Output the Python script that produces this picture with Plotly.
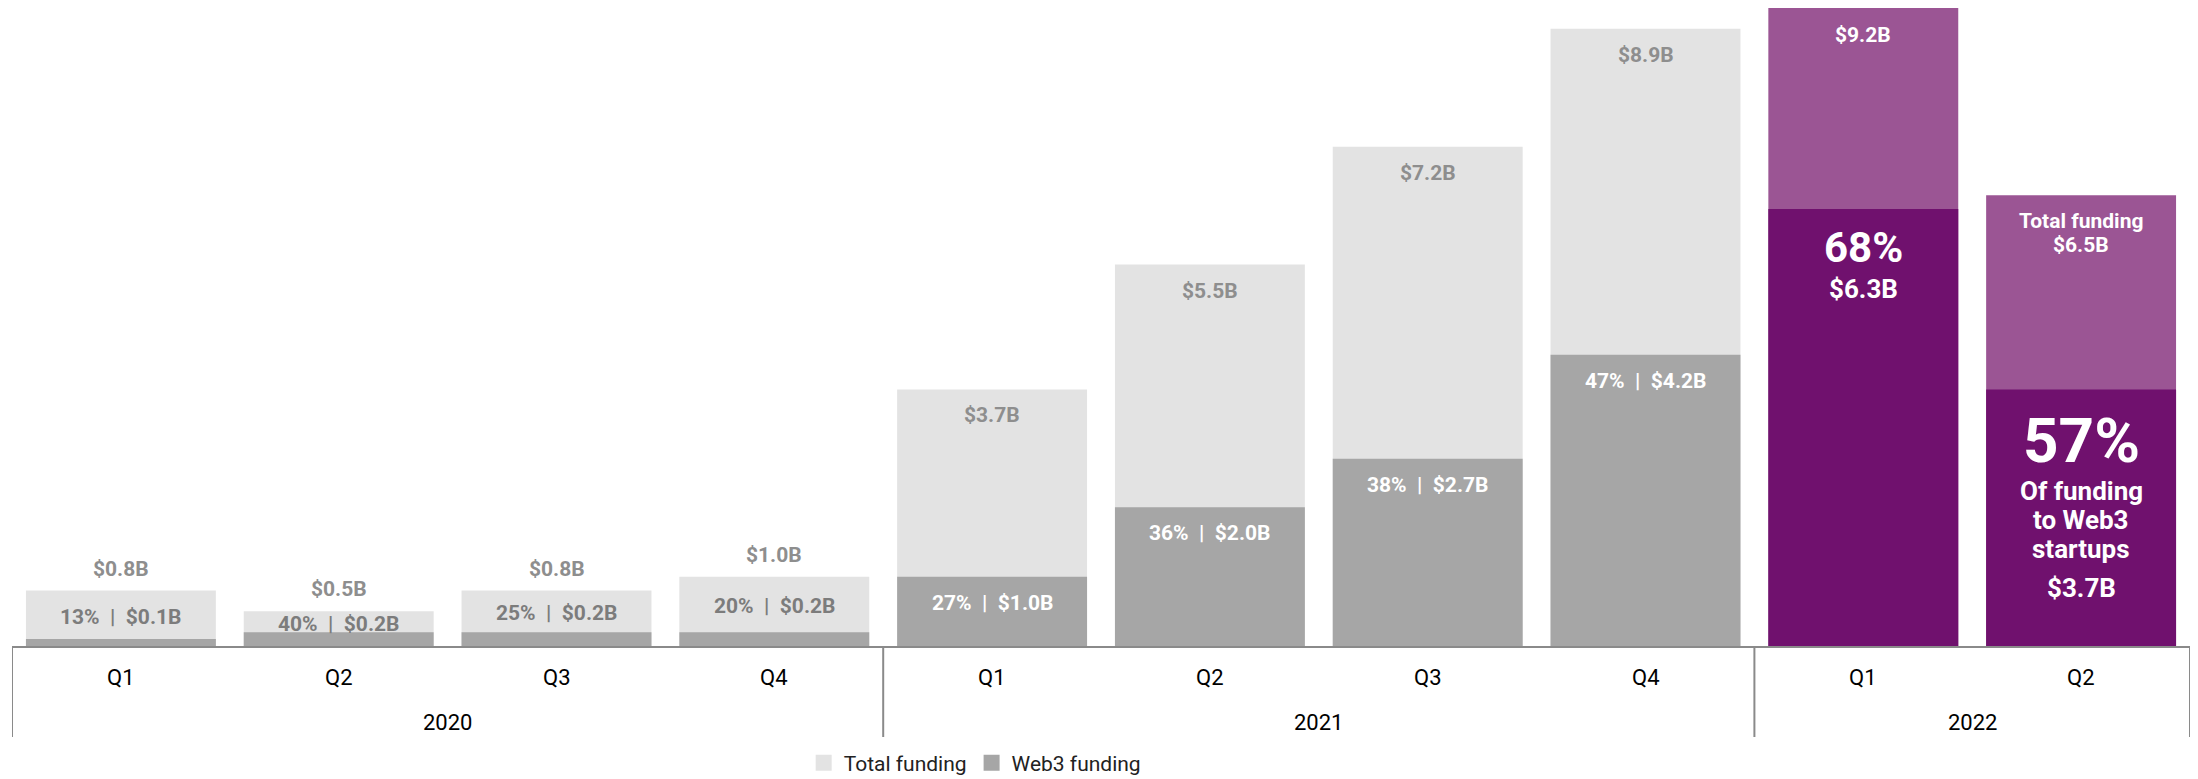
import plotly.graph_objects as go

# Quarterly funding (USD billions)
years = ["2020", "2020", "2020", "2020", "2021", "2021", "2021", "2021", "2022", "2022"]
quarters = ["Q1", "Q2", "Q3", "Q4", "Q1", "Q2", "Q3", "Q4", "Q1", "Q2"]
total_funding = [0.8, 0.5, 0.8, 1.0, 3.7, 5.5, 7.2, 8.9, 9.2, 6.5]
web3_funding = [0.1, 0.2, 0.2, 0.2, 1.0, 2.0, 2.7, 4.2, 6.3, 3.7]
web3_share = [13, 40, 25, 20, 27, 36, 38, 47, 68, 57]

FONT = "Roboto"
LIGHT_GRAY = "#E3E3E3"
MID_GRAY = "#A6A6A6"
LIGHT_PURPLE = "#9B5594"
DARK_PURPLE = "#70116E"
LABEL_GRAY = "#8E8E8E"
DARK_LABEL_GRAY = "#7C7C7C"
AXIS_GRAY = "#8A8A8A"

PLOT_H = 638  # plot-area height in px (used to express pixel offsets in paper units)

highlight = [y == "2022" for y in years]
total_colors = [LIGHT_PURPLE if h else LIGHT_GRAY for h in highlight]
web3_colors = [DARK_PURPLE if h else MID_GRAY for h in highlight]

x_cat = [years, quarters]

fig = go.Figure()
fig.add_trace(go.Bar(x=x_cat, y=total_funding, marker=dict(color=total_colors, line=dict(width=0)),
                     showlegend=False, hoverinfo="skip"))
fig.add_trace(go.Bar(x=x_cat, y=web3_funding, marker=dict(color=web3_colors, line=dict(width=0)),
                     showlegend=False, hoverinfo="skip"))

# Legend swatches
for name, color in [("Total funding", LIGHT_GRAY), ("Web3 funding", MID_GRAY)]:
    fig.add_trace(go.Scatter(x=[[years[0]], [quarters[0]]], y=[None], mode="markers", name=name,
                             marker=dict(symbol="square", size=17, color=color), hoverinfo="skip"))

annotations = []
shapes = []


def label(i, y, text, size, color, shift, weight="bold"):
    annotations.append(dict(x=i, y=y, xref="x", yref="y", text=text, showarrow=False,
                            yanchor="middle", xanchor="center", yshift=shift,
                            font=dict(family=FONT, size=size, color=color, weight=weight)))


# Value labels
for i, (yr, tot, w, s) in enumerate(zip(years, total_funding, web3_funding, web3_share)):
    if yr == "2020":
        label(i, tot, f"${tot:.1f}B", 21, LABEL_GRAY, 22)
        label(i, (tot + w) / 2, f"{s}%  |  ${w:.1f}B", 21, DARK_LABEL_GRAY, -2)
    elif yr == "2021":
        label(i, tot, f"${tot:.1f}B", 21, LABEL_GRAY, -26)
        label(i, w, f"{s}%  |  ${w:.1f}B", 21, "white", -26)

# 2022 Q1
i = 8
label(i, total_funding[i], f"${total_funding[i]:.1f}B", 21, "white", -27)
label(i, web3_funding[i], f"{web3_share[i]}%", 42, "white", -38)
label(i, web3_funding[i], f"${web3_funding[i]:.1f}B", 26, "white", -80)

# 2022 Q2
i = 9
label(i, total_funding[i], "Total funding", 21, "white", -26)
label(i, total_funding[i], f"${total_funding[i]:.1f}B", 21, "white", -50)
label(i, web3_funding[i], f"{web3_share[i]}%", 62, "white", -51)
for k, line in enumerate(["Of funding", "to Web3", "startups"]):
    label(i, web3_funding[i], line, 26, "white", -102 - 29 * k)
label(i, web3_funding[i], f"${web3_funding[i]:.1f}B", 26, "white", -199)

# Two-level category axis: quarter row, year row and group dividers
for i, q in enumerate(quarters):
    label(i, 0, q, 22, "black", -31, weight="normal")

groups = []
for i, yr in enumerate(years):
    if not groups or groups[-1][0] != yr:
        groups.append([yr, i, i])
    else:
        groups[-1][2] = i

divider_depth = 91 / PLOT_H
bounds = [groups[0][1] - 0.5] + [g[2] + 0.5 for g in groups]
for b in bounds:
    shapes.append(dict(type="line", xref="x", yref="paper", x0=b, x1=b, y0=0, y1=-divider_depth,
                       line=dict(color=AXIS_GRAY, width=2)))
for yr, start, end in groups:
    label((start + end) / 2, 0, yr, 22, "black", -76, weight="normal")

fig.update_layout(
    width=2198, height=779,
    barmode="overlay", bargap=0.128,
    plot_bgcolor="white", paper_bgcolor="white",
    margin=dict(l=12, r=8, t=8, b=133),
    font=dict(family=FONT, color="black"),
    annotations=annotations,
    shapes=shapes,
    legend=dict(orientation="h", x=0.442, xanchor="center", yref="container", y=0.0205,
                yanchor="middle", font=dict(family=FONT, size=21, color="#222222"),
                itemclick=False, bgcolor="rgba(0,0,0,0)"),
    xaxis=dict(type="multicategory", showline=True, linecolor=AXIS_GRAY, linewidth=2,
               showticklabels=False, showdividers=False, ticks="",
               showgrid=False, zeroline=False, range=[-0.5, 9.5], automargin=False),
    yaxis=dict(visible=False, range=[0, 9.2], showgrid=False, zeroline=False, fixedrange=True),
)

fig.write_html("out.html")
